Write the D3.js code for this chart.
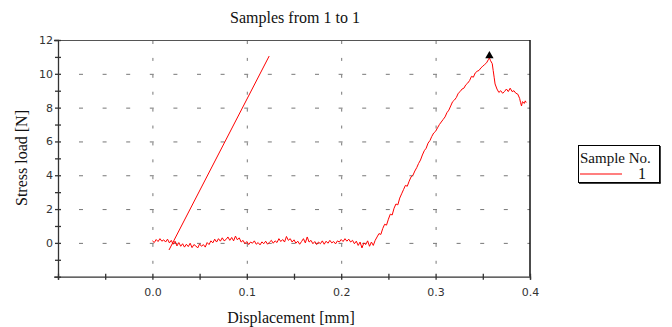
<!DOCTYPE html>
<html><head><meta charset="utf-8">
<script src="https://cdn.jsdelivr.net/npm/d3@7"></script>
<style>body{margin:0;background:#fff}svg{display:block}</style>
</head><body>
<script>
// ---- data ----
const displacement = [0.000,0.002,0.004,0.006,0.008,0.010,0.012,0.014,0.016,0.018,0.020,0.022,0.024,0.026,0.028,0.030,0.032,0.034,0.036,0.038,0.040,0.042,0.044,0.046,0.048,0.050,0.052,0.054,0.056,0.058,0.060,0.062,0.064,0.066,0.068,0.070,0.072,0.074,0.076,0.078,0.080,0.082,0.084,0.086,0.088,0.090,0.092,0.094,0.096,0.098,0.100,0.102,0.104,0.106,0.108,0.110,0.112,0.114,0.116,0.118,0.120,0.122,0.124,0.126,0.128,0.130,0.132,0.134,0.136,0.138,0.140,0.142,0.144,0.146,0.148,0.150,0.152,0.154,0.156,0.158,0.160,0.162,0.164,0.166,0.168,0.170,0.172,0.174,0.176,0.178,0.180,0.182,0.184,0.186,0.188,0.190,0.192,0.194,0.196,0.198,0.200,0.202,0.204,0.206,0.208,0.210,0.212,0.214,0.216,0.218,0.220,0.222,0.224,0.226,0.228,0.230,0.232,0.234,0.236,
0.238,0.240,0.242,0.244,0.246,0.248,0.250,0.252,0.254,0.256,0.258,0.260,0.262,0.264,0.266,0.268,0.270,0.272,0.274,0.276,0.278,0.280,0.282,0.284,0.286,0.288,0.290,0.292,0.294,0.296,0.298,0.300,0.302,0.304,0.306,0.308,0.310,0.312,0.314,0.316,0.318,0.320,0.322,0.324,0.326,0.328,0.330,0.332,0.334,0.336,0.338,0.340,0.342,0.344,0.346,0.348,0.350,0.352,0.354,0.356,0.357,0.358,0.360,0.361,0.362,0.363,0.365,0.367,0.369,0.371,0.373,0.375,0.377,0.379,0.381,0.383,0.385,0.387,0.389,0.390,0.391,0.392,0.394,0.395,0.396];
const stressLoad = [0.12,0.02,0.20,0.08,0.25,0.10,0.18,0.05,0.22,0.00,0.15,-0.08,0.10,-0.18,0.02,-0.20,-0.05,-0.25,-0.08,-0.22,-0.02,-0.28,-0.10,-0.18,-0.30,-0.06,-0.20,-0.10,-0.25,0.02,-0.10,0.12,0.00,0.22,0.05,0.25,0.10,0.30,0.12,0.20,0.35,0.15,0.32,0.12,0.40,0.18,0.30,0.05,0.15,-0.05,0.08,-0.10,0.05,-0.02,0.12,-0.08,0.02,-0.12,0.06,-0.05,0.10,-0.08,0.04,0.15,-0.02,0.12,0.02,0.25,0.08,0.20,0.05,0.38,0.15,0.25,0.05,0.18,-0.02,0.10,-0.08,0.08,0.25,0.00,0.35,0.05,0.15,-0.05,0.08,-0.10,0.05,-0.05,0.12,-0.08,0.10,-0.02,0.15,0.00,0.08,-0.06,0.12,0.05,0.20,0.08,0.25,0.10,0.22,0.05,0.15,-0.05,0.10,-0.15,0.05,-0.30,0.00,-0.10,0.12,-0.20,0.05,-0.15,0.15,
0.35,0.55,0.50,0.85,1.10,1.05,1.40,1.70,1.65,2.05,2.30,2.25,2.65,2.90,3.15,3.40,3.35,3.65,3.90,4.00,4.25,4.45,4.70,4.90,5.20,5.45,5.60,5.90,6.05,6.30,6.50,6.60,6.80,7.00,7.15,7.30,7.45,7.70,7.85,8.10,8.35,8.45,8.60,8.85,8.95,9.10,9.15,9.35,9.45,9.60,9.85,9.80,10.05,10.15,10.20,10.35,10.45,10.55,10.65,10.85,10.95,10.80,10.60,10.20,9.80,9.40,9.10,8.90,9.00,8.85,8.95,9.10,8.95,9.15,8.95,9.00,8.85,8.80,8.55,8.30,8.10,8.35,8.25,8.40,8.30];
const modulusX = [0.0176, 0.1237];
const modulusY = [-0.42, 11.05];
const peak = {x: 0.357, y: 11.07};
const xTickLabels = ["0.0","0.1","0.2","0.3","0.4"];
const yTickLabels = ["0","2","4","6","8","10","12"];
const legendTitle = "Sample No.";
const legendLabel = "1";

// ---- layout ----
const W = 672, H = 327;
const L = 58, R = 530, T = 40, B = 276.7;
const svg = d3.select("body").append("svg").attr("width", W).attr("height", H);
const x = d3.scaleLinear().domain([-0.1, 0.4]).range([L, R]);
const y = d3.scaleLinear().domain([-2, 12]).range([B, T]);

// grid
const g = svg.append("g");
[0,2,4,6,8,10].forEach(v => {
  g.append("line").attr("x1", x(-0.1)+21).attr("x2", R).attr("y1", y(v)+0.5).attr("y2", y(v)+0.5)
    .attr("stroke", "#777").attr("stroke-width", 1)
    .attr("stroke-dasharray", "4," + (x(0.025)-x(0)-4));
});
[0,0.1,0.2,0.3].forEach(v => {
  g.append("line").attr("x1", x(v)+0.5).attr("x2", x(v)+0.5).attr("y1", y(12)+1).attr("y2", B)
    .attr("stroke", "#777").attr("stroke-width", 1)
    .attr("stroke-dasharray", "3," + (y(0)-y(1)-3));
});

// axes frame
svg.append("line").attr("x1", L).attr("x2", R).attr("y1", T+0.5).attr("y2", T+0.5).attr("stroke", "#555");
svg.append("line").attr("x1", R).attr("x2", R).attr("y1", T).attr("y2", B).attr("stroke", "#111").attr("stroke-width", 1.5);

const yAxis = svg.append("g").attr("transform", `translate(${L},0)`)
  .call(d3.axisLeft(y).tickValues(d3.range(-2, 13, 1)).tickSize(4).tickFormat(d => (d % 2 === 0 && d >= 0) ? yTickLabels[d/2] : ""));
yAxis.select(".domain").attr("stroke", "#333").attr("stroke-width", 1.3);
yAxis.selectAll(".tick line").attr("stroke", "#333").attr("x2", 3).attr("x1", -3).attr("stroke-width", 1.3);
yAxis.selectAll("text").attr("font-family", "DejaVu Sans, Verdana, sans-serif").attr("font-size", 11).attr("fill", "#333").attr("x", -5);

const xAxis = svg.append("g").attr("transform", `translate(0,${B})`)
  .call(d3.axisBottom(x).tickValues(d3.range(-0.1, 0.401, 0.05)).tickSize(3).tickFormat(d => {
    const i = Math.round(d * 10);
    return (Math.abs(d*10 - i) < 1e-6 && i >= 0) ? xTickLabels[i] : "";
  }));
xAxis.select(".domain").attr("stroke", "#333").attr("stroke-width", 1.3);
xAxis.selectAll(".tick line").attr("stroke", "#333").attr("y1", -3).attr("y2", 3).attr("stroke-width", 1.3);
xAxis.selectAll("text").attr("font-family", "DejaVu Sans, Verdana, sans-serif").attr("font-size", 11).attr("fill", "#333").attr("dy", "1.2em");

// data lines
const line = d3.line().x(d => x(d[0])).y(d => y(d[1]));
svg.append("path").datum(displacement.map((d, i) => [d, stressLoad[i]]))
  .attr("d", line).attr("fill", "none").attr("stroke", "#ff0000").attr("stroke-width", 1);
svg.append("path").datum(modulusX.map((d, i) => [d, modulusY[i]]))
  .attr("d", line).attr("fill", "none").attr("stroke", "#ff0000").attr("stroke-width", 1);
svg.append("path").attr("d", d3.symbol(d3.symbolTriangle, 30)())
  .attr("transform", `translate(${x(peak.x)},${y(peak.y)})`).attr("fill", "#000");

// titles
const serif = "Liberation Serif, Times New Roman, serif";
svg.append("text").attr("x", 295).attr("y", 23).attr("text-anchor", "middle")
  .attr("font-family", serif).attr("font-size", 16).attr("fill", "#111").text("Samples from 1 to 1");
svg.append("text").attr("x", 291).attr("y", 323).attr("text-anchor", "middle")
  .attr("font-family", serif).attr("font-size", 16).attr("fill", "#111").text("Displacement [mm]");
svg.append("text").attr("transform", "translate(27,158) rotate(-90)").attr("text-anchor", "middle")
  .attr("font-family", serif).attr("font-size", 16).attr("fill", "#111").text("Stress load [N]");

// legend
const lg = svg.append("g");
lg.append("rect").attr("x", 578.5).attr("y", 145.5).attr("width", 81).attr("height", 37)
  .attr("fill", "#fff").attr("stroke", "#000").attr("stroke-width", 1);
lg.append("line").attr("x1", 660).attr("x2", 660).attr("y1", 146).attr("y2", 183.5).attr("stroke", "#000").attr("stroke-width", 1.5);
lg.append("line").attr("x1", 579).attr("x2", 660.5).attr("y1", 183).attr("y2", 183).attr("stroke", "#000").attr("stroke-width", 1.5);
lg.append("text").attr("x", 580).attr("y", 163).attr("font-family", serif).attr("font-size", 15).attr("fill", "#111").text(legendTitle);
lg.append("line").attr("x1", 580).attr("x2", 622).attr("y1", 174).attr("y2", 174).attr("stroke", "#ff0000").attr("stroke-width", 1.2);
lg.append("text").attr("x", 642).attr("y", 179).attr("text-anchor", "middle").attr("font-family", serif).attr("font-size", 16).attr("fill", "#111").text(legendLabel);
</script>
</body></html>
